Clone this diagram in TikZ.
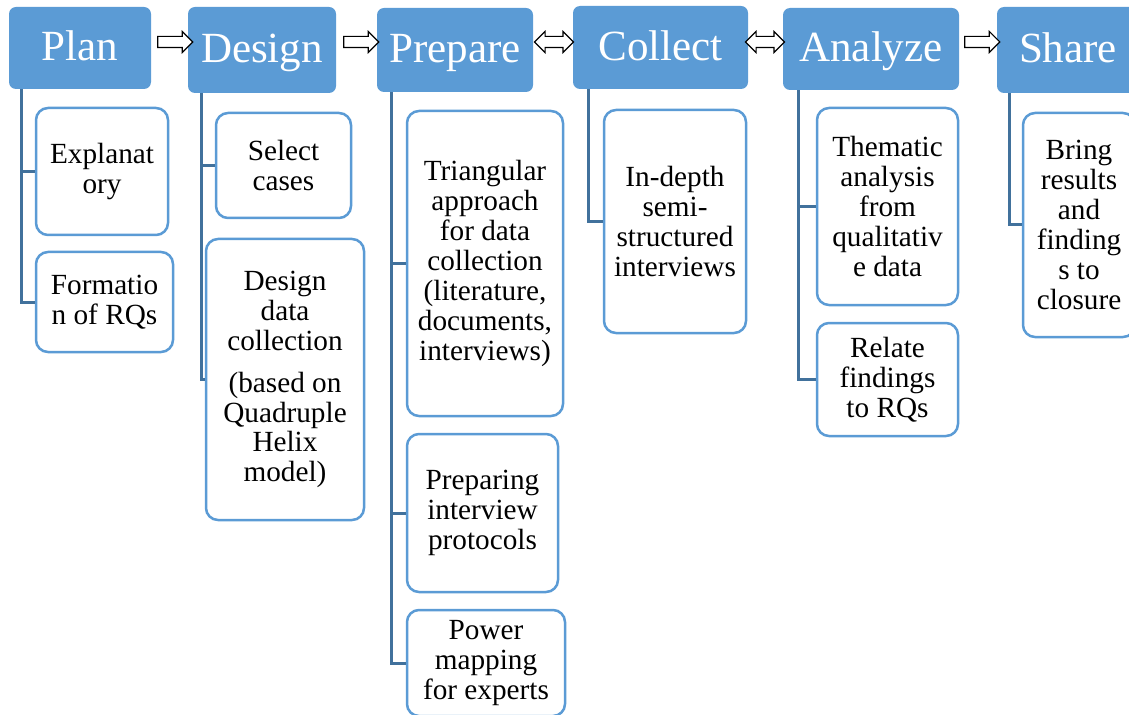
\documentclass[tikz,border=0pt]{standalone}
\usepackage{fontspec}
\setmainfont{Liberation Serif}
\newfontfamily\lserif{Liberation Serif}
\usetikzlibrary{shapes.arrows}
\usetikzlibrary{calc}
\definecolor{hdrblue}{HTML}{5B9BD5}
\definecolor{linkblue}{HTML}{41719C}
\newcommand{\pxu}{0.025cm}

\begin{document}
\begin{tikzpicture}[x=0.025cm,y=-0.025cm,
  sz/.style 2 args={minimum width=#1*\pxu,minimum height=#2*\pxu},
  hdr/.style={rectangle,rounded corners=7*\pxu,fill=hdrblue,text=white,inner sep=0pt,
    text height=26*\pxu,text depth=0pt,font=\lserif\fontsize{30.6}{34}\selectfont},
  item/.style={rectangle,rounded corners=12*\pxu,draw=hdrblue,line width=2.5*\pxu,fill=white,
    align=center,inner sep=0pt,font=\lserif\fontsize{20.8}{21.3}\selectfont},
  link/.style={draw=linkblue,line width=3*\pxu},
  fwd/.style={single arrow,draw=black,fill=white,line width=0.8pt,inner xsep=0pt,
    inner ysep=5*\pxu,single arrow head extend=5*\pxu,minimum height=35*\pxu},
  both/.style={double arrow,draw=black,fill=white,line width=0.8pt,inner xsep=0pt,
    inner ysep=5*\pxu,double arrow head extend=5*\pxu,minimum height=39*\pxu}]
\useasboundingbox (0,0) rectangle (1129,715);
\clip (0,0) rectangle (1129,715);

% stages
\node[hdr,sz={142}{82}] (plan) at (80,48) {Plan};
\node[hdr,sz={148}{86}] (design) at (262,50) {Design};
\node[hdr,sz={156}{84}] (prepare) at (455,50) {Prepare};
\node[hdr,sz={175}{83}] (collect) at (660.5,47.5) {Collect};
\node[hdr,sz={176}{82}] (analyze) at (871,49) {Analyze};
\node[hdr,sz={142}{86}] (share) at (1068,50) {Share};

% arrows between stages
\node[fwd] (a1) at (172.5,42) {};
\node[fwd] (a2) at (358.5,42) {};
\node[both] (a3) at (554,42) {};
\node[both] (a4) at (765,42) {};
\node[fwd] (a5) at (979.5,42) {};

% tasks
\node[item,sz={132}{127}] (expl) at (102,171.5) {Explanat\\ory};
\node[item,sz={137}{100}] (form) at (104.5,302) {Formatio\\n of RQs};
\node[item,sz={135}{105}] (sel) at (283.5,165.5) {Select\\cases};
\node[item,sz={158}{281}] (ddc) at (285,379.5)
  {Design\\data\\collection\\[0.3cm](based on\\Quadruple\\Helix\\model)};
\node[item,sz={156}{305}] (tri) at (485,263.5)
  {Triangular\\approach\\for data\\collection\\(literature,\\documents,\\interviews)};
\node[item,sz={151}{158}] (prep) at (482.5,513) {Preparing\\interview\\protocols};
\node[item,sz={158}{106}] (power) at (486,663) {Power\\mapping\\for experts};
\node[item,sz={142}{223}] (indepth) at (675,221.5) {In-depth\\semi-\\structured\\interviews};
\node[item,sz={141}{197}] (them) at (887.5,206.5) {Thematic\\analysis\\from\\qualitativ\\e data};
\node[item,sz={141}{113}] (rel) at (887.5,379.5) {Relate\\findings\\to RQs};
\node[item,sz={112}{224}] (bring) at (1079,225) {Bring\\results\\and\\finding\\s to\\closure};

% connectors
\draw[link] ($(plan.south west)+(13,0)$) |- (expl.west);
\draw[link] ($(plan.south west)+(13,0)$) |- (form.west);
\draw[link] ($(design.south west)+(14,0)$) |- (sel.west);
\draw[link] ($(design.south west)+(14,0)$) |- (ddc.west);
\draw[link] ($(prepare.south west)+(15,0)$) |- (tri.west);
\draw[link] ($(prepare.south west)+(15,0)$) |- (prep.west);
\draw[link] ($(prepare.south west)+(15,0)$) |- (power.west);
\draw[link] ($(collect.south west)+(16,0)$) |- (indepth.west);
\draw[link] ($(analyze.south west)+(16,0)$) |- (them.west);
\draw[link] ($(analyze.south west)+(16,0)$) |- (rel.west);
\draw[link] ($(share.south west)+(13,0)$) |- (bring.west);
\end{tikzpicture}
\end{document}
